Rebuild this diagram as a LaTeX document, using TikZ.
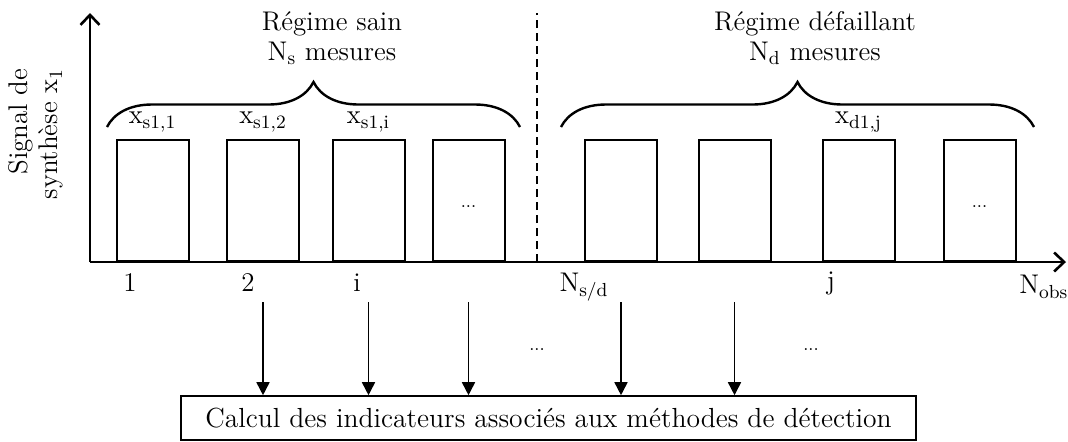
\documentclass[tikz,border=0pt]{standalone}
\usepackage{tikz}
\usetikzlibrary{arrows.meta,positioning,decorations.pathreplacing}

\begin{document}
\begin{tikzpicture}[
  x=0.5pt, y=-0.5pt,
  font=\fontsize{13.5}{15}\selectfont,
  bar/.style={draw, line width=1pt, fill=white, minimum width=36pt, minimum height=60.5pt, inner sep=0pt},
  axis/.style={line width=1.3pt, -{Straight Barb[length=5pt, width=9.5pt]}},
  arrow/.style={-{Triangle[length=6.5pt, width=6.5pt]}, line width=0.8pt},
  brace/.style={decorate, decoration={brace, amplitude=22.5pt}, line width=1.2pt},
  dots/.style={font=\small}
]
\useasboundingbox (0,0) rectangle (1068,441);

% axes
\coordinate (O) at (90,262);
\coordinate (ytop) at (90,13);
\coordinate (xend) at (1066,262);
\draw[axis] (O) -- (ytop);
\draw[axis] (O) -- (xend);
\node[rotate=90, align=right, inner sep=0pt] (ylab) at (36,134) {Signal de\\synthèse x\textsubscript{1}};

% limit between the two regimes
\coordinate (septop) at (537,13);
\coordinate (sepbot) at (537,262);
\draw[line width=1pt, dash pattern=on 4pt off 2.5pt] (sepbot) -- (septop);

% measures
\foreach \n/\x in {h1/152.5, h2/263, h3/368.5, h4/468.5, d1/621, d2/734.5, d3/858.5, d4/979.5}
  \node[bar, anchor=south] (\n) at (\x,262) {};

\node[above=0pt of h1] (xh1) {x\textsubscript{s1,1}};
\node[above=0pt of h2] (xh2) {x\textsubscript{s1,2}};
\node[above=0pt of h3] (xh3) {x\textsubscript{s1,i}};
\node[above=0pt of d3] (xd3) {x\textsubscript{d1,j}};
\node[dots] (doth) at ([yshift=-3pt]h4.center) {...};
\node[dots] (dotd) at ([yshift=-3pt]d4.center) {...};

% regimes
\coordinate (bs1) at (107,127);
\coordinate (bs2) at (520,127);
\coordinate (bd1) at (561,127);
\coordinate (bd2) at (1034,127);
\draw[brace] (bs1) -- (bs2);
\draw[brace] (bd1) -- (bd2);
\node[align=center] (sain) at (332,38) {Régime sain\\N\textsubscript{s} mesures};
\node[align=center] (defaut) at (815,38) {Régime défaillant\\N\textsubscript{d} mesures};

% indices
\node (t1) at (130,283) {1};
\node (t2) at (248,283) {2};
\node (ti) at (357,283) {i};
\node (tsd) at (584,287) {N\textsubscript{s/d}};
\node (tj) at (831,283) {j};
\node[anchor=west, inner sep=0pt] (tobs) at (1019,287) {N\textsubscript{obs}};

% indicators
\node[draw, line width=0.8pt, minimum width=367.5pt, minimum height=22pt, font=\fontsize{13.8}{15}\selectfont] (calc) at (548.5,418) {Calcul des indicateurs associés aux méthodes de détection};
\foreach \n in {h2,h3,h4,d1,d2}
  \draw[arrow] ([yshift=-20pt]\n.south) -- (\n.south |- calc.north);
\node[dots] (dot1) at (537,350) {...};
\node[dots] (dot2) at (811,350) {...};
\end{tikzpicture}
\end{document}
